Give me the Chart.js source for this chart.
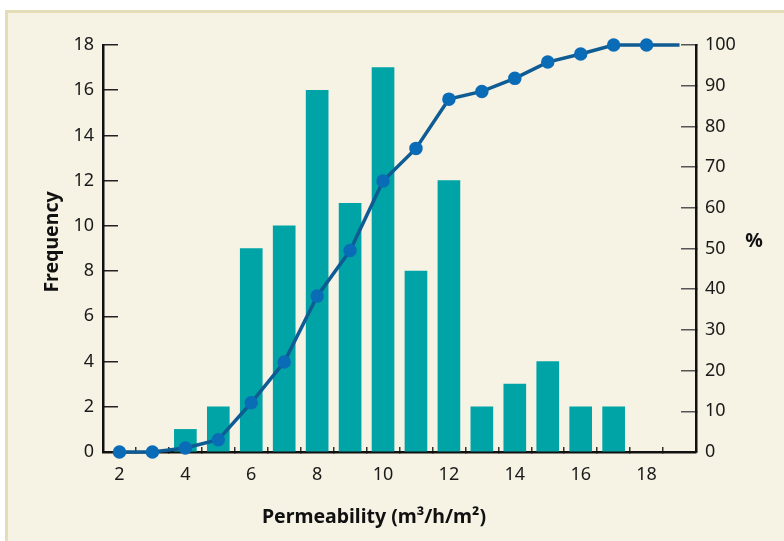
<!DOCTYPE html>
<html>
<head>
<meta charset="utf-8">
<script src="https://cdn.jsdelivr.net/npm/chart.js"></script>
<style>
  body { margin: 0; background: #fff; }
  .panel {
    position: absolute; left: 5px; top: 10px; width: 779px; height: 531px;
    background: #f6f2e4; border-top: 3px solid #e4ddb7; border-left: 3px solid #e4ddb7;
    box-sizing: border-box;
  }
  canvas { position: absolute; left: 0; top: 0; }
</style>
</head>
<body>
<div class="panel"></div>
<canvas id="chart" width="784" height="541"></canvas>
<script>
// permeability bins and how many samples fell in each
var binX = [4, 5, 6, 7, 8, 9, 10, 11, 12, 13, 14, 15, 16, 17];
var frequency = [1, 2, 9, 10, 16, 11, 17, 8, 12, 2, 3, 4, 2, 2];

// cumulative percentage curve (last point only carries the line to the edge)
var cumX = [2, 3, 4, 5, 6, 7, 8, 9, 10, 11, 12, 13, 14, 15, 16, 17, 18, 19];
var cumPct = [0, 0, 1, 3, 12.1, 22.1, 38.3, 49.5, 66.6, 74.6, 86.7, 88.6, 91.8, 95.8, 97.8, 100, 100, 100];

var xLabels = [2, 4, 6, 8, 10, 12, 14, 16, 18];

var tickFont = { family: "'Noto Sans', sans-serif", size: 18 };
var titleFont = "bold 19.5px 'Noto Sans', sans-serif";

var axisTitles = {
  id: "axisTitles",
  afterDraw: function (chart) {
    var ctx = chart.ctx;
    ctx.save();
    ctx.fillStyle = "#111";
    ctx.font = titleFont;
    ctx.textAlign = "center";
    ctx.textBaseline = "middle";
    ctx.fillText("Permeability (m\u00b3/h/m\u00b2)", 374, 517);
    ctx.fillText("%", 754, 241);
    ctx.translate(52, 242);
    ctx.rotate(-Math.PI / 2);
    ctx.fillText("Frequency", 0, 0);
    ctx.restore();
  }
};

var ctx = document.getElementById("chart").getContext("2d");
var chart = new Chart(ctx, {
  data: {
    datasets: [{
      type: "line",
      label: "cumulative",
      data: cumX.map(function (x, i) { return { x: x, y: cumPct[i] }; }),
      yAxisID: "y2",
      borderColor: "#0f5b93",
      borderWidth: 3.5,
      pointBackgroundColor: "#0a6cb6",
      pointBorderColor: "#0a6cb6",
      pointRadius: cumX.map(function (x) { return x > 18 ? 0 : 5; }),
      tension: 0,
      clip: false,
      order: 1
    }, {
      type: "bar",
      label: "frequency",
      data: binX.map(function (x, i) { return { x: x, y: frequency[i] }; }),
      yAxisID: "y",
      backgroundColor: "#00a4a6",
      barThickness: 22,
      order: 2
    }]
  },
  options: {
    responsive: false,
    animation: false,
    layout: { padding: { top: 45 } },
    plugins: { legend: { display: false }, tooltip: { enabled: false } },
    scales: {
      x: {
        type: "linear",
        min: 1.5,
        max: 19.5,
        offset: false,
        afterFit: function (s) { s.height = 89; },
        border: { color: "#111", width: 2.5 },
        grid: {
          offset: false,
          drawOnChartArea: false,
          drawTicks: true,
          tickLength: -5,
          lineWidth: 1.5,
          color: function (c) {
            var v = c.tick && c.tick.value;
            return (v % 1 === 0.5 && v > 2 && v < 19) ? "#333" : "rgba(0,0,0,0)";
          }
        },
        ticks: {
          stepSize: 0.5,
          autoSkip: false,
          maxRotation: 0,
          padding: 17,
          color: "#1a1a1a",
          font: tickFont,
          callback: function (v) { return xLabels.indexOf(v) >= 0 ? String(v) : ""; }
        }
      },
      y: {
        position: "left",
        min: 0,
        max: 18,
        afterFit: function (s) { s.width = 103; },
        border: { color: "#111", width: 2.5 },
        grid: { drawOnChartArea: false, tickLength: -15, lineWidth: 1.5, color: "#222" },
        ticks: { stepSize: 2, padding: 24, color: "#1a1a1a", font: tickFont }
      },
      y2: {
        position: "right",
        min: 0,
        max: 100,
        afterFit: function (s) { s.width = 88; },
        border: { color: "#111", width: 2.5 },
        grid: { drawOnChartArea: false, tickLength: -15, lineWidth: 1.5, color: "#555" },
        ticks: { stepSize: 10, padding: 24, color: "#1a1a1a", font: tickFont }
      }
    }
  },
  plugins: [axisTitles]
});
</script>
</body>
</html>
